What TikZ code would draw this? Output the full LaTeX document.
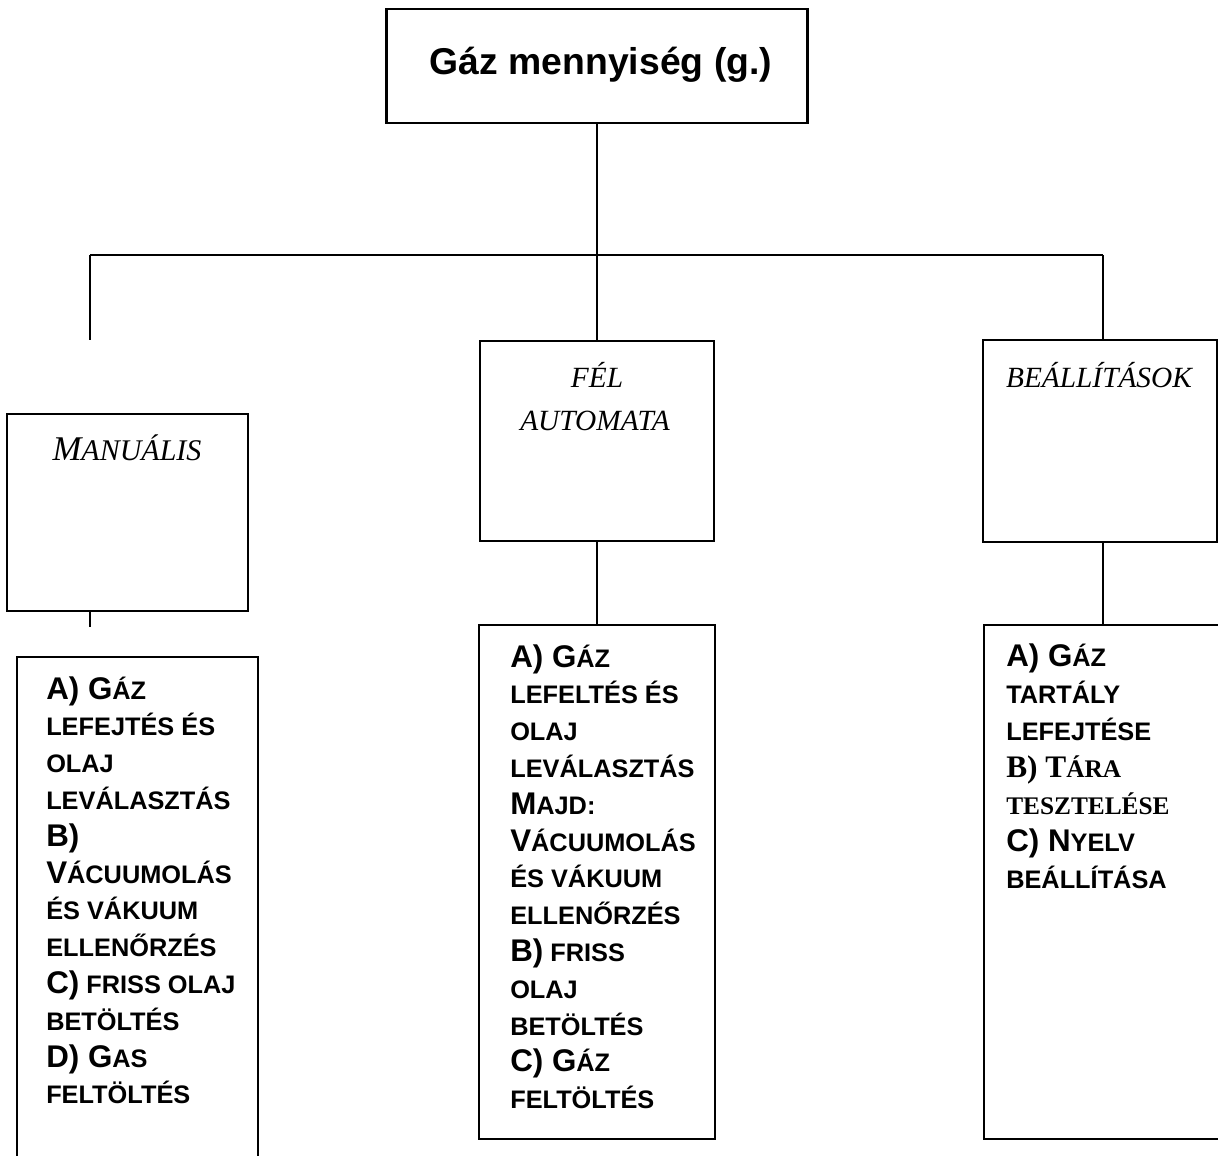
\documentclass[tikz,border=0pt]{standalone}
\usepackage{fontspec}
\setmainfont{Liberation Sans}
\newfontfamily\lsans{Liberation Sans Bold}
\newfontfamily\lserif{Liberation Serif Bold}
\newfontfamily\lseri{Liberation Serif Italic}
\newfontfamily\ltitle{Liberation Sans Bold}
\newcommand{\Bg}[1]{{\fontsize{23.5}{26}\selectfont #1}}
\begin{document}
\begin{tikzpicture}[x=0.75pt,y=-0.75pt,
  box/.style={draw, line width=1.6pt, inner sep=0pt, outer sep=0pt},
  conn/.style={line width=1.6pt},
  lt/.style={font=\lsans\fontsize{19}{26}\selectfont, inner sep=0pt, anchor=base west},
  it/.style={font=\lseri\fontsize{22}{26}\selectfont, inner sep=0pt, anchor=base}]
\useasboundingbox (0,0) rectangle (1218,1156);
\clip (0,0) rectangle (1218,1156);
% boxes
\node[box, minimum width=315.75pt, minimum height=85.5pt] (top) at (597,66) {};
\node[box, minimum width=180.75pt, minimum height=147.75pt] (man) at (127.5,512.5) {};
\node[box, minimum width=175.5pt, minimum height=150pt] (fel) at (597,441) {};
\node[box, minimum width=175.5pt, minimum height=151.5pt] (beal) at (1100,441) {};
\node[box, minimum width=180.75pt, minimum height=407.25pt] (manL) at (137.5,928.5) {};
\node[box, minimum width=177pt, minimum height=385.5pt] (felL) at (597,882) {};
\node[box, minimum width=207pt, minimum height=385.5pt] (bealL) at (1122,882) {};
% titles
\node[font=\ltitle\fontsize{28}{32}\selectfont, inner sep=0pt, anchor=base] (ttl) at (601,75) {Gáz mennyiség (g.)};
\node[it] (manT) at (127,460) {{\fontsize{26}{30}\selectfont M}{\fontsize{22.5}{26}\selectfont ANUÁLIS}};
\node[it] (felT1) at (597,387) {FÉL};
\node[it] (felT2) at (595,430) {AUTOMATA};
\node[it] (bealT) at (1099,387) {BEÁLLÍTÁSOK};
% connectors
\coordinate (J) at (597,255);
\coordinate (JL) at (90,255);
\coordinate (JR) at (1103,255);
\coordinate (LD) at (90,340);
\coordinate (MS) at (90,627);
\draw[conn] (top.south) -- (J);
\draw[conn] (JL) -- (JR);
\draw[conn] (JL) -- (LD);
\draw[conn] (J) -- (fel.north);
\draw[conn] (JR) -- (JR |- beal.north);
\draw[conn] (man.south -| LD) -- (MS);
\draw[conn] (fel.south) -- (felL.north);
\draw[conn] (beal.south -| JR) -- (bealL.north -| JR);
% left lower text
\foreach \t [count=\i from 0] in {\Bg{A) G}ÁZ, LEFEJTÉS ÉS, OLAJ, LEVÁLASZTÁS, \Bg{B)}, \Bg{V}ÁCUUMOLÁS, ÉS VÁKUUM, ELLENŐRZÉS, \Bg{C)} FRISS OLAJ, BETÖLTÉS, \Bg{D) G}AS, FELTÖLTÉS}
  \node[lt] (ml\i) at (46,{699+36.8*\i}) {\t};
% middle lower text
\foreach \t [count=\i from 0] in {\Bg{A) G}ÁZ, LEFELTÉS ÉS, OLAJ, LEVÁLASZTÁS, \Bg{M}AJD:, \Bg{V}ÁCUUMOLÁS, ÉS VÁKUUM, ELLENŐRZÉS, \Bg{B)} FRISS, OLAJ, BETÖLTÉS, \Bg{C) G}ÁZ, FELTÖLTÉS}
  \node[lt] (fl\i) at (510,{667+36.8*\i}) {\t};
% right lower text
\foreach \t [count=\i from 0] in {\Bg{A) G}ÁZ, TARTÁLY, LEFEJTÉSE, \lserif\Bg{B) T}ÁRA, \lserif TESZTELÉSE, \Bg{C) N}YELV, BEÁLLÍTÁSA}
  \node[lt] (bl\i) at (1006,{666+37*\i}) {\t};
\end{tikzpicture}
\end{document}
